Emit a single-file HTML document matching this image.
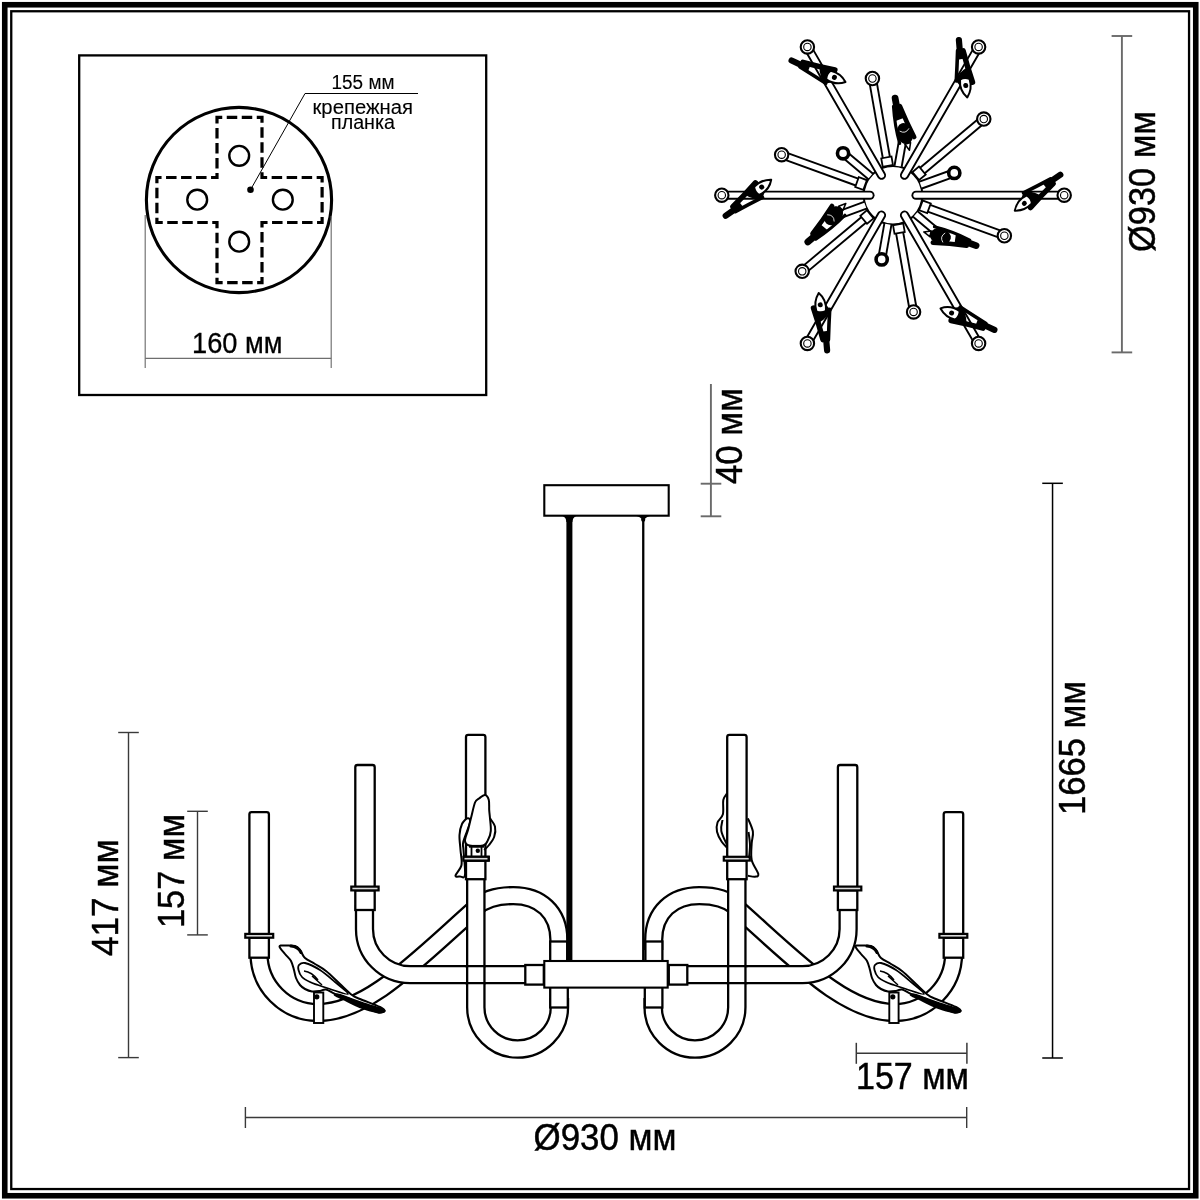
<!DOCTYPE html>
<html><head><meta charset="utf-8"><style>
html,body{margin:0;padding:0;background:#fff;width:1200px;height:1200px;overflow:hidden}
svg{display:block;font-family:"Liberation Sans",sans-serif;will-change:transform}
</style></head><body>
<svg width="1200" height="1200" viewBox="0 0 1200 1200">
<rect width="1200" height="1200" fill="#fff"/>
<rect x="4.75" y="4.75" width="1191" height="1191" fill="none" stroke="#000" stroke-width="5.6"/>
<rect x="11.25" y="11.25" width="1177.8" height="1177.8" fill="none" stroke="#000" stroke-width="2.3"/>
<rect x="79.2" y="55.4" width="407" height="339.6" fill="none" stroke="#000" stroke-width="2.3"/>
<circle cx="239" cy="200" r="92.6" fill="none" stroke="#000" stroke-width="3.1"/>
<path d="M217.00,117.40 L262.00,117.40 L262.00,177.50 L322.10,177.50 L322.10,222.50 L262.00,222.50 L262.00,282.60 L217.00,282.60 L217.00,222.50 L156.90,222.50 L156.90,177.50 L217.00,177.50Z" fill="none" stroke="#000" stroke-width="3.2" stroke-dasharray="10.5 4.5" stroke-dashoffset="5.25" stroke-linejoin="miter"/>
<circle cx="239.2" cy="155.8" r="9.9" fill="none" stroke="#000" stroke-width="2.4"/>
<circle cx="239.2" cy="241.7" r="9.9" fill="none" stroke="#000" stroke-width="2.4"/>
<circle cx="197.2" cy="199.7" r="9.9" fill="none" stroke="#000" stroke-width="2.4"/>
<circle cx="282.8" cy="199.7" r="9.9" fill="none" stroke="#000" stroke-width="2.4"/>
<circle cx="250.5" cy="189.8" r="3.3" fill="#000"/>
<polyline points="250.5,189.8 305,93.5 418,93.5" fill="none" stroke="#000" stroke-width="1"/>
<g stroke="#6e6e6e" stroke-width="1.15" fill="none">
<line x1="145.2" y1="215" x2="145.2" y2="368"/>
<line x1="331.2" y1="216" x2="331.2" y2="368"/>
<line x1="145.2" y1="358.4" x2="331.2" y2="358.4"/>
</g>
<g stroke="#3a3a3a" stroke-width="1.4" fill="none"><line x1="128.5" y1="732.5" x2="128.5" y2="1057.6"/><line x1="118.2" y1="732.5" x2="138.8" y2="732.5"/><line x1="118.2" y1="1057.6" x2="138.8" y2="1057.6"/></g><g stroke="#3a3a3a" stroke-width="1.4" fill="none"><line x1="197.5" y1="811.3" x2="197.5" y2="934.9"/><line x1="187.2" y1="811.3" x2="207.8" y2="811.3"/><line x1="187.2" y1="934.9" x2="207.8" y2="934.9"/></g><g stroke="#6a6a6a" stroke-width="1.9" fill="none"><line x1="710.9" y1="384" x2="710.9" y2="516.3"/><line x1="700.7" y1="483.7" x2="721.3" y2="483.7"/><line x1="700.7" y1="516.3" x2="721.3" y2="516.3"/></g><g stroke="#6a6a6a" stroke-width="1.9" fill="none"><line x1="1121.9" y1="36" x2="1121.9" y2="352.4"/><line x1="1111.6000000000001" y1="36" x2="1132.2" y2="36"/><line x1="1111.6000000000001" y1="352.4" x2="1132.2" y2="352.4"/></g><g stroke="#000" stroke-width="1.5" fill="none"><line x1="1052.55" y1="483.3" x2="1052.55" y2="1058"/><line x1="1042.25" y1="483.3" x2="1062.85" y2="483.3"/><line x1="1042.25" y1="1058" x2="1062.85" y2="1058"/></g><g stroke="#383838" stroke-width="1.5" fill="none"><line x1="856.3" y1="1053.3" x2="966.9" y2="1053.3"/><line x1="856.3" y1="1042.8" x2="856.3" y2="1063.8"/><line x1="966.9" y1="1042.8" x2="966.9" y2="1063.8"/></g><g stroke="#3a3a3a" stroke-width="1.4" fill="none"><line x1="245.4" y1="1117.5" x2="966.7" y2="1117.5"/><line x1="245.4" y1="1107.0" x2="245.4" y2="1128.0"/><line x1="966.7" y1="1107.0" x2="966.7" y2="1128.0"/></g>
<text x="331.5" y="88.5" font-family="Liberation Sans, sans-serif" stroke="#000" stroke-width="0.12" font-size="19.6" textLength="63" lengthAdjust="spacingAndGlyphs">155 мм</text>
<text x="312.5" y="114.4" font-family="Liberation Sans, sans-serif" stroke="#000" stroke-width="0.12" font-size="20" textLength="100.5" lengthAdjust="spacingAndGlyphs">крепежная</text>
<text x="331" y="128.5" font-family="Liberation Sans, sans-serif" stroke="#000" stroke-width="0.12" font-size="20" textLength="64" lengthAdjust="spacingAndGlyphs">планка</text>
<text x="192" y="353.3" font-family="Liberation Sans, sans-serif" stroke="#000" stroke-width="0.3" font-size="29" textLength="90.5" lengthAdjust="spacingAndGlyphs">160 мм</text>
<text x="856" y="1089.4" font-family="Liberation Sans, sans-serif" stroke="#000" stroke-width="0.45" font-size="36.3" textLength="113" lengthAdjust="spacingAndGlyphs">157 мм</text>
<text x="533.5" y="1149.5" font-family="Liberation Sans, sans-serif" stroke="#000" stroke-width="0.45" font-size="36.3" textLength="143" lengthAdjust="spacingAndGlyphs">Ø930 мм</text>
<text transform="translate(118.05,956) rotate(-90)" x="0" y="0" font-family="Liberation Sans, sans-serif" stroke="#000" stroke-width="0.45" font-size="36.3" textLength="116.5" lengthAdjust="spacingAndGlyphs">417 мм</text>
<text transform="translate(183.8,928) rotate(-90)" x="0" y="0" font-family="Liberation Sans, sans-serif" stroke="#000" stroke-width="0.45" font-size="36.3" textLength="114" lengthAdjust="spacingAndGlyphs">157 мм</text>
<text transform="translate(742,484) rotate(-90)" x="0" y="0" font-family="Liberation Sans, sans-serif" stroke="#000" stroke-width="0.45" font-size="36.3" textLength="96" lengthAdjust="spacingAndGlyphs">40 мм</text>
<text transform="translate(1154.7,252) rotate(-90)" x="0" y="0" font-family="Liberation Sans, sans-serif" stroke="#000" stroke-width="0.45" font-size="36.3" textLength="141" lengthAdjust="spacingAndGlyphs">Ø930 мм</text>
<text transform="translate(1085,815) rotate(-90)" x="0" y="0" font-family="Liberation Sans, sans-serif" stroke="#000" stroke-width="0.45" font-size="36.3" textLength="134" lengthAdjust="spacingAndGlyphs">1665 мм</text>
<g><path d="M259,950 L259,953.5 A59,59 0 0 0 318,1012.5 C368,1012.5 416,960.8 478,906" fill="none" stroke="#000" stroke-width="19.3" stroke-linecap="butt"/><path d="M259,950 L259,953.5 A59,59 0 0 0 318,1012.5 C368,1012.5 416,960.8 478,906" fill="none" stroke="#fff" stroke-width="14.7" stroke-linecap="butt"/><path d="M364.5,905 L364.5,929 A45.6,45.6 0 0 0 410.1,974.7 L530,974.7" fill="none" stroke="#000" stroke-width="19.3" stroke-linecap="butt"/><path d="M364.5,905 L364.5,929 A45.6,45.6 0 0 0 410.1,974.7 L530,974.7" fill="none" stroke="#fff" stroke-width="14.7" stroke-linecap="butt"/><path d="M475.8,907 C485,899 500,895.6 513.3,895.6 C540,895.6 558.9,912 558.9,940 L558.9,950" fill="none" stroke="#000" stroke-width="19.3" stroke-linecap="butt"/><path d="M475.8,907 C485,899 500,895.6 513.3,895.6 C540,895.6 558.9,912 558.9,940 L558.9,950" fill="none" stroke="#fff" stroke-width="14.7" stroke-linecap="butt"/><path d="M475.8,875 L475.8,1007.2 A41.8,41.8 0 0 0 559.4,1007.2 L559.4,998" fill="none" stroke="#000" stroke-width="19.6" stroke-linecap="butt"/><path d="M475.8,875 L475.8,1007.2 A41.8,41.8 0 0 0 559.4,1007.2 L559.4,998" fill="none" stroke="#fff" stroke-width="15.0" stroke-linecap="butt"/><path d="M465,966.2 H486 M465,983.2 H486" stroke="#000" stroke-width="2.3"/><rect x="550.2" y="941.5" width="17" height="20" fill="#fff" stroke="#000" stroke-width="2.3"/><rect x="550.2" y="987" width="17.6" height="20.5" fill="#fff" stroke="#000" stroke-width="2.3"/><rect x="525.3" y="965" width="18.5" height="19.6" fill="#fff" stroke="#000" stroke-width="2.3"/><rect x="314" y="992.5" width="9.3" height="30.5" fill="#fff" stroke="#000" stroke-width="1.9"/><rect x="249.4" y="812.1" width="19.5" height="122.8" rx="2.2" fill="#fff" stroke="#000" stroke-width="2.3"/><rect x="249.4" y="937.6999999999999" width="19.5" height="20.0" fill="#fff" stroke="#000" stroke-width="2.3"/><rect x="245.3" y="933.9" width="27.9" height="3.8" fill="#d8d8d8" stroke="#000" stroke-width="2.2"/><rect x="355.3" y="765.0" width="19.4" height="122.6" rx="2.2" fill="#fff" stroke="#000" stroke-width="2.3"/><rect x="355.3" y="890.4" width="19.4" height="19.6" fill="#fff" stroke="#000" stroke-width="2.3"/><rect x="351.3" y="886.6" width="27.3" height="3.8" fill="#d8d8d8" stroke="#000" stroke-width="2.2"/><rect x="466.0" y="734.9" width="19.4" height="122.9" rx="2.2" fill="#fff" stroke="#000" stroke-width="2.3"/><rect x="466.0" y="860.5999999999999" width="19.4" height="18.6" fill="#fff" stroke="#000" stroke-width="2.3"/><rect x="462.8" y="856.8" width="26.0" height="3.8" fill="#d8d8d8" stroke="#000" stroke-width="2.2"/></g>
<g transform="matrix(-1 0 0 1 1212.6 0)"><path d="M259,950 L259,953.5 A59,59 0 0 0 318,1012.5 C368,1012.5 416,960.8 478,906" fill="none" stroke="#000" stroke-width="19.3" stroke-linecap="butt"/><path d="M259,950 L259,953.5 A59,59 0 0 0 318,1012.5 C368,1012.5 416,960.8 478,906" fill="none" stroke="#fff" stroke-width="14.7" stroke-linecap="butt"/><path d="M364.5,905 L364.5,929 A45.6,45.6 0 0 0 410.1,974.7 L530,974.7" fill="none" stroke="#000" stroke-width="19.3" stroke-linecap="butt"/><path d="M364.5,905 L364.5,929 A45.6,45.6 0 0 0 410.1,974.7 L530,974.7" fill="none" stroke="#fff" stroke-width="14.7" stroke-linecap="butt"/><path d="M475.8,907 C485,899 500,895.6 513.3,895.6 C540,895.6 558.9,912 558.9,940 L558.9,950" fill="none" stroke="#000" stroke-width="19.3" stroke-linecap="butt"/><path d="M475.8,907 C485,899 500,895.6 513.3,895.6 C540,895.6 558.9,912 558.9,940 L558.9,950" fill="none" stroke="#fff" stroke-width="14.7" stroke-linecap="butt"/><path d="M475.8,875 L475.8,1007.2 A41.8,41.8 0 0 0 559.4,1007.2 L559.4,998" fill="none" stroke="#000" stroke-width="19.6" stroke-linecap="butt"/><path d="M475.8,875 L475.8,1007.2 A41.8,41.8 0 0 0 559.4,1007.2 L559.4,998" fill="none" stroke="#fff" stroke-width="15.0" stroke-linecap="butt"/><path d="M465,966.2 H486 M465,983.2 H486" stroke="#000" stroke-width="2.3"/><rect x="550.2" y="941.5" width="17" height="20" fill="#fff" stroke="#000" stroke-width="2.3"/><rect x="550.2" y="987" width="17.6" height="20.5" fill="#fff" stroke="#000" stroke-width="2.3"/><rect x="525.3" y="965" width="18.5" height="19.6" fill="#fff" stroke="#000" stroke-width="2.3"/><rect x="314" y="992.5" width="9.3" height="30.5" fill="#fff" stroke="#000" stroke-width="1.9"/><rect x="249.4" y="812.1" width="19.5" height="122.8" rx="2.2" fill="#fff" stroke="#000" stroke-width="2.3"/><rect x="249.4" y="937.6999999999999" width="19.5" height="20.0" fill="#fff" stroke="#000" stroke-width="2.3"/><rect x="245.3" y="933.9" width="27.9" height="3.8" fill="#d8d8d8" stroke="#000" stroke-width="2.2"/><rect x="355.3" y="765.0" width="19.4" height="122.6" rx="2.2" fill="#fff" stroke="#000" stroke-width="2.3"/><rect x="355.3" y="890.4" width="19.4" height="19.6" fill="#fff" stroke="#000" stroke-width="2.3"/><rect x="351.3" y="886.6" width="27.3" height="3.8" fill="#d8d8d8" stroke="#000" stroke-width="2.2"/><rect x="466.0" y="734.9" width="19.4" height="122.9" rx="2.2" fill="#fff" stroke="#000" stroke-width="2.3"/><rect x="466.0" y="860.5999999999999" width="19.4" height="18.6" fill="#fff" stroke="#000" stroke-width="2.3"/><rect x="462.8" y="856.8" width="26.0" height="3.8" fill="#d8d8d8" stroke="#000" stroke-width="2.2"/></g>
<rect x="544.3" y="485.2" width="124.4" height="30.5" fill="#fff" stroke="#000" stroke-width="2.1"/>
<path d="M562.5,516 L576.3,516 Q572.5,517.5 572.4,522 L566.4,522 Q566.3,517.5 562.5,516 Z" fill="#000"/>
<rect x="566.4" y="518" width="6" height="443" fill="#000"/>
<path d="M636.5,516 L650,516 Q645,517.5 644.5,520 L642,520 Q641.5,517.5 636.5,516 Z" fill="#000"/>
<circle cx="643.2" cy="519.8" r="2.1" fill="#000"/>
<rect x="642.1" y="518" width="2.3" height="443" fill="#000"/>
<rect x="544.3" y="961" width="123.4" height="26.6" fill="#fff" stroke="#000" stroke-width="2.1"/>
<g transform="translate(0,0)"><path d="M279.5,946.5 C279.5,947.9 283.1,951.6 285.0,954.0 C286.9,956.4 289.5,958.3 291.0,961.0 C292.5,963.7 293.2,967.2 294.0,970.0 C294.8,972.8 295.0,975.5 296.0,978.0 C297.0,980.5 298.5,983.2 300.0,985.0 C301.5,986.8 303.0,987.9 305.0,989.0 C307.0,990.1 309.5,991.2 312.0,991.5 C314.5,991.8 317.7,991.3 320.0,991.0 C322.3,990.7 323.5,989.0 326.0,989.5 C328.5,990.0 331.0,992.4 335.0,994.0 C339.0,995.6 345.0,996.8 350.0,999.0 C355.0,1001.2 360.3,1004.8 365.0,1007.0 C369.7,1009.2 374.8,1011.8 378.0,1012.5 C381.2,1013.2 384.2,1011.9 384.5,1011.0 C384.8,1010.1 384.1,1009.0 380.0,1007.0 C375.9,1005.0 364.7,1001.0 360.0,999.0 C355.3,997.0 355.3,997.5 352.0,995.0 C348.7,992.5 344.3,988.0 340.0,984.0 C335.7,980.0 330.2,974.3 326.0,971.0 C321.8,967.7 318.5,966.2 315.0,964.0 C311.5,961.8 307.5,960.3 305.0,958.0 C302.5,955.7 301.7,952.0 300.0,950.0 C298.3,948.0 297.5,946.8 295.0,946.0 C292.5,945.2 287.6,945.4 285.0,945.5 C282.4,945.6 279.5,945.1 279.5,946.5Z" fill="#fff" stroke="#000" stroke-width="2" stroke-linejoin="round"/><path d="M299.0,965.0 C300.1,963.8 301.5,962.2 305.0,963.0 C308.5,963.8 315.0,966.8 320.0,970.0 C325.0,973.2 330.3,978.0 335.0,982.0 C339.7,986.0 348.8,992.8 348.0,994.0 C347.2,995.2 335.0,990.5 330.0,989.0 C325.0,987.5 321.3,986.2 318.0,985.0 C314.7,983.8 312.7,983.3 310.0,982.0 C307.3,980.7 303.9,979.0 302.0,977.0 C300.1,975.0 299.0,972.0 298.5,970.0 C298.0,968.0 297.9,966.2 299.0,965.0Z" fill="none" stroke="#000" stroke-width="1.8"/><path d="M338.0,993.5 C340.7,993.8 345.7,996.0 350.0,997.5 C354.3,999.0 359.5,1001.0 364.0,1002.5 C368.5,1004.0 373.7,1005.4 377.0,1006.5 C380.3,1007.6 382.6,1008.2 384.0,1009.0 C385.4,1009.8 386.0,1010.8 385.5,1011.5 C385.0,1012.2 383.6,1013.3 381.0,1013.3 C378.4,1013.3 374.2,1012.6 370.0,1011.5 C365.8,1010.4 360.3,1008.3 356.0,1006.5 C351.7,1004.7 347.7,1002.3 344.0,1000.5 C340.3,998.7 335.0,996.7 334.0,995.5 C333.0,994.3 335.3,993.2 338.0,993.5Z" fill="#000"/><path d="M304,971 Q312,972 318,980 M312,976 L322,985" stroke="#000" stroke-width="1.5" fill="none"/><circle cx="316.8" cy="996.8" r="2.6" fill="#000"/><path d="M291,946 Q298,946.5 301,952.5" fill="none" stroke="#000" stroke-width="3" stroke-linecap="round"/></g>
<g transform="translate(576,0)"><path d="M279.5,946.5 C279.5,947.9 283.1,951.6 285.0,954.0 C286.9,956.4 289.5,958.3 291.0,961.0 C292.5,963.7 293.2,967.2 294.0,970.0 C294.8,972.8 295.0,975.5 296.0,978.0 C297.0,980.5 298.5,983.2 300.0,985.0 C301.5,986.8 303.0,987.9 305.0,989.0 C307.0,990.1 309.5,991.2 312.0,991.5 C314.5,991.8 317.7,991.3 320.0,991.0 C322.3,990.7 323.5,989.0 326.0,989.5 C328.5,990.0 331.0,992.4 335.0,994.0 C339.0,995.6 345.0,996.8 350.0,999.0 C355.0,1001.2 360.3,1004.8 365.0,1007.0 C369.7,1009.2 374.8,1011.8 378.0,1012.5 C381.2,1013.2 384.2,1011.9 384.5,1011.0 C384.8,1010.1 384.1,1009.0 380.0,1007.0 C375.9,1005.0 364.7,1001.0 360.0,999.0 C355.3,997.0 355.3,997.5 352.0,995.0 C348.7,992.5 344.3,988.0 340.0,984.0 C335.7,980.0 330.2,974.3 326.0,971.0 C321.8,967.7 318.5,966.2 315.0,964.0 C311.5,961.8 307.5,960.3 305.0,958.0 C302.5,955.7 301.7,952.0 300.0,950.0 C298.3,948.0 297.5,946.8 295.0,946.0 C292.5,945.2 287.6,945.4 285.0,945.5 C282.4,945.6 279.5,945.1 279.5,946.5Z" fill="#fff" stroke="#000" stroke-width="2" stroke-linejoin="round"/><path d="M299.0,965.0 C300.1,963.8 301.5,962.2 305.0,963.0 C308.5,963.8 315.0,966.8 320.0,970.0 C325.0,973.2 330.3,978.0 335.0,982.0 C339.7,986.0 348.8,992.8 348.0,994.0 C347.2,995.2 335.0,990.5 330.0,989.0 C325.0,987.5 321.3,986.2 318.0,985.0 C314.7,983.8 312.7,983.3 310.0,982.0 C307.3,980.7 303.9,979.0 302.0,977.0 C300.1,975.0 299.0,972.0 298.5,970.0 C298.0,968.0 297.9,966.2 299.0,965.0Z" fill="none" stroke="#000" stroke-width="1.8"/><path d="M338.0,993.5 C340.7,993.8 345.7,996.0 350.0,997.5 C354.3,999.0 359.5,1001.0 364.0,1002.5 C368.5,1004.0 373.7,1005.4 377.0,1006.5 C380.3,1007.6 382.6,1008.2 384.0,1009.0 C385.4,1009.8 386.0,1010.8 385.5,1011.5 C385.0,1012.2 383.6,1013.3 381.0,1013.3 C378.4,1013.3 374.2,1012.6 370.0,1011.5 C365.8,1010.4 360.3,1008.3 356.0,1006.5 C351.7,1004.7 347.7,1002.3 344.0,1000.5 C340.3,998.7 335.0,996.7 334.0,995.5 C333.0,994.3 335.3,993.2 338.0,993.5Z" fill="#000"/><path d="M304,971 Q312,972 318,980 M312,976 L322,985" stroke="#000" stroke-width="1.5" fill="none"/><circle cx="316.8" cy="996.8" r="2.6" fill="#000"/><path d="M291,946 Q298,946.5 301,952.5" fill="none" stroke="#000" stroke-width="3" stroke-linecap="round"/></g>
<path d="M467.5,818.3 C466.2,818.5 463.3,821.2 462.0,824.0 C460.7,826.8 459.8,830.7 459.5,835.0 C459.2,839.3 460.2,845.0 460.5,850.0 C460.8,855.0 462.3,860.8 461.5,865.0 C460.7,869.2 455.8,873.6 455.5,875.5 C455.2,877.4 458.4,876.6 460.0,876.5 C461.6,876.4 464.4,879.4 465.0,875.0 C465.6,870.6 463.8,855.5 463.5,850.0 C463.2,844.5 462.2,846.3 463.3,841.7 C464.4,837.1 469.3,826.4 470.0,822.5 C470.7,818.6 468.8,818.0 467.5,818.3Z" fill="#fff" stroke="#000" stroke-width="2" stroke-linejoin="round"/>
<path d="M490.0,818.3 C490.8,819.7 494.3,823.6 495.0,826.7 C495.7,829.8 495.2,833.7 494.2,836.7 C493.2,839.8 490.7,842.8 489.0,845.0 C487.3,847.2 485.0,849.2 484.2,850.0" fill="none" stroke="#000" stroke-width="2"/>
<path d="M471.5,846 V856 M481.5,846 V856" stroke="#000" stroke-width="1.8"/>
<path d="M485.0,795.0 C486.6,795.2 488.1,797.5 488.8,800.0 C489.5,802.5 489.0,807.0 489.2,810.0 C489.4,813.0 489.7,814.8 490.0,818.3 C490.3,821.8 491.1,827.3 490.8,830.8 C490.5,834.3 489.6,836.8 488.3,839.2 C487.1,841.7 486.5,844.5 483.3,845.5 C480.1,846.5 472.2,846.3 469.2,845.5 C466.1,844.7 465.2,843.4 465.0,840.8 C464.8,838.2 467.0,833.8 468.0,830.0 C469.0,826.2 469.8,822.6 471.0,818.0 C472.2,813.4 473.7,805.8 475.0,802.5 C476.3,799.2 477.3,799.8 479.0,798.5 C480.7,797.2 483.4,794.8 485.0,795.0Z" fill="#fff" stroke="#000" stroke-width="2" stroke-linejoin="round"/>
<path d="M469,846.3 H484" stroke="#000" stroke-width="2.8"/><circle cx="477.8" cy="850.8" r="2.2" fill="#000"/>
<rect x="463.4" y="856.8" width="25.2" height="3.8" fill="#d8d8d8" stroke="#000" stroke-width="2.2"/>
<path d="M727.0,793.5 C726.4,794.6 724.0,796.5 723.3,800.0 C722.6,803.5 723.9,810.5 722.9,814.2 C721.9,818.0 718.5,819.6 717.5,822.5 C716.5,825.4 716.3,828.5 717.0,831.7 C717.7,834.9 720.0,839.1 721.7,841.7 C723.4,844.3 726.1,846.5 727.0,847.5" fill="none" stroke="#000" stroke-width="2"/>
<path d="M722.5,820.0 C722.3,821.8 720.5,826.6 721.3,830.8 C722.0,835.0 726.0,842.6 727.0,845.0" fill="none" stroke="#000" stroke-width="2"/>
<path d="M747.9,818.3 C748.7,820.5 752.3,827.5 752.9,831.7 C753.5,835.9 751.9,838.6 751.7,843.3 C751.5,848.0 750.6,854.9 751.7,860.0 C752.8,865.1 757.8,871.2 758.3,874.0 C758.8,876.8 756.7,876.4 755.0,876.7 C753.3,877.0 749.1,875.9 747.9,875.8" fill="none" stroke="#000" stroke-width="2"/>
<path d="M748.5,832.0 C748.8,834.2 749.9,840.7 750.0,845.0 C750.1,849.3 749.2,855.8 749.0,858.0" fill="none" stroke="#000" stroke-width="2"/>
<circle cx="893.0" cy="195.2" r="29.3" fill="#fff" stroke="#000" stroke-width="2"/>
<path d="M916.00,195.20 L1064.20,195.20" stroke="#000" stroke-width="9.1" stroke-linecap="round"/><path d="M916.00,195.20 L1064.20,195.20" stroke="#fff" stroke-width="5.300000000000001" stroke-linecap="round"/><path d="M904.50,175.28 L978.60,46.94" stroke="#000" stroke-width="9.1" stroke-linecap="round"/><path d="M904.50,175.28 L978.60,46.94" stroke="#fff" stroke-width="5.300000000000001" stroke-linecap="round"/><path d="M915.60,176.24 L983.78,119.03" stroke="#000" stroke-width="9.1" stroke-linecap="butt"/><path d="M915.60,176.24 L983.78,119.03" stroke="#fff" stroke-width="5.300000000000001" stroke-linecap="butt"/><path d="M887.88,166.15 L872.42,78.50" stroke="#000" stroke-width="9.1" stroke-linecap="butt"/><path d="M887.88,166.15 L872.42,78.50" stroke="#fff" stroke-width="5.300000000000001" stroke-linecap="butt"/><path d="M920.72,185.11 L954.27,172.90" stroke="#000" stroke-width="9.1" stroke-linecap="butt"/><path d="M920.72,185.11 L954.27,172.90" stroke="#fff" stroke-width="5.300000000000001" stroke-linecap="butt"/><path d="M898.12,166.15 L903.77,134.14" stroke="#000" stroke-width="9.1" stroke-linecap="butt"/><path d="M898.12,166.15 L903.77,134.14" stroke="#fff" stroke-width="5.300000000000001" stroke-linecap="butt"/><path d="M881.50,175.28 L807.40,46.94" stroke="#000" stroke-width="9.1" stroke-linecap="round"/><path d="M881.50,175.28 L807.40,46.94" stroke="#fff" stroke-width="5.300000000000001" stroke-linecap="round"/><path d="M870.00,195.20 L721.80,195.20" stroke="#000" stroke-width="9.1" stroke-linecap="round"/><path d="M870.00,195.20 L721.80,195.20" stroke="#fff" stroke-width="5.300000000000001" stroke-linecap="round"/><path d="M865.28,185.11 L781.65,154.67" stroke="#000" stroke-width="9.1" stroke-linecap="butt"/><path d="M865.28,185.11 L781.65,154.67" stroke="#fff" stroke-width="5.300000000000001" stroke-linecap="butt"/><path d="M870.40,214.16 L802.22,271.37" stroke="#000" stroke-width="9.1" stroke-linecap="butt"/><path d="M870.40,214.16 L802.22,271.37" stroke="#fff" stroke-width="5.300000000000001" stroke-linecap="butt"/><path d="M870.40,176.24 L843.05,153.29" stroke="#000" stroke-width="9.1" stroke-linecap="butt"/><path d="M870.40,176.24 L843.05,153.29" stroke="#fff" stroke-width="5.300000000000001" stroke-linecap="butt"/><path d="M865.28,205.29 L834.74,216.41" stroke="#000" stroke-width="9.1" stroke-linecap="butt"/><path d="M865.28,205.29 L834.74,216.41" stroke="#fff" stroke-width="5.300000000000001" stroke-linecap="butt"/><path d="M881.50,215.12 L807.40,343.46" stroke="#000" stroke-width="9.1" stroke-linecap="round"/><path d="M881.50,215.12 L807.40,343.46" stroke="#fff" stroke-width="5.300000000000001" stroke-linecap="round"/><path d="M904.50,215.12 L978.60,343.46" stroke="#000" stroke-width="9.1" stroke-linecap="round"/><path d="M904.50,215.12 L978.60,343.46" stroke="#fff" stroke-width="5.300000000000001" stroke-linecap="round"/><path d="M898.12,224.25 L913.58,311.90" stroke="#000" stroke-width="9.1" stroke-linecap="butt"/><path d="M898.12,224.25 L913.58,311.90" stroke="#fff" stroke-width="5.300000000000001" stroke-linecap="butt"/><path d="M920.72,205.29 L1004.35,235.73" stroke="#000" stroke-width="9.1" stroke-linecap="butt"/><path d="M920.72,205.29 L1004.35,235.73" stroke="#fff" stroke-width="5.300000000000001" stroke-linecap="butt"/><path d="M887.88,224.25 L881.68,259.41" stroke="#000" stroke-width="9.1" stroke-linecap="butt"/><path d="M887.88,224.25 L881.68,259.41" stroke="#fff" stroke-width="5.300000000000001" stroke-linecap="butt"/><path d="M915.60,214.16 L940.49,235.05" stroke="#000" stroke-width="9.1" stroke-linecap="butt"/><path d="M915.60,214.16 L940.49,235.05" stroke="#fff" stroke-width="5.300000000000001" stroke-linecap="butt"/>
<circle cx="1064.20" cy="195.20" r="6.7" fill="#fff" stroke="#000" stroke-width="2.1"/><circle cx="1064.20" cy="195.20" r="3.7" fill="#fff" stroke="#000" stroke-width="1.1"/><circle cx="978.60" cy="46.94" r="6.7" fill="#fff" stroke="#000" stroke-width="2.1"/><circle cx="978.60" cy="46.94" r="3.7" fill="#fff" stroke="#000" stroke-width="1.1"/><rect x="-4.3" y="-5.2" width="8.6" height="10.4" fill="#fff" stroke="#000" stroke-width="1.8" transform="translate(919.05,173.35) rotate(-40)"/><circle cx="983.78" cy="119.03" r="6.7" fill="#fff" stroke="#000" stroke-width="2.1"/><circle cx="983.78" cy="119.03" r="3.7" fill="#fff" stroke="#000" stroke-width="1.1"/><rect x="-4.3" y="-5.2" width="8.6" height="10.4" fill="#fff" stroke="#000" stroke-width="1.8" transform="translate(887.10,161.72) rotate(-100)"/><circle cx="872.42" cy="78.50" r="6.7" fill="#fff" stroke="#000" stroke-width="2.1"/><circle cx="872.42" cy="78.50" r="3.7" fill="#fff" stroke="#000" stroke-width="1.1"/><circle cx="954.27" cy="172.90" r="5.6" fill="#fff" stroke="#000" stroke-width="3.6"/><circle cx="807.40" cy="46.94" r="6.7" fill="#fff" stroke="#000" stroke-width="2.1"/><circle cx="807.40" cy="46.94" r="3.7" fill="#fff" stroke="#000" stroke-width="1.1"/><circle cx="721.80" cy="195.20" r="6.7" fill="#fff" stroke="#000" stroke-width="2.1"/><circle cx="721.80" cy="195.20" r="3.7" fill="#fff" stroke="#000" stroke-width="1.1"/><rect x="-4.3" y="-5.2" width="8.6" height="10.4" fill="#fff" stroke="#000" stroke-width="1.8" transform="translate(861.05,183.57) rotate(-160)"/><circle cx="781.65" cy="154.67" r="6.7" fill="#fff" stroke="#000" stroke-width="2.1"/><circle cx="781.65" cy="154.67" r="3.7" fill="#fff" stroke="#000" stroke-width="1.1"/><rect x="-4.3" y="-5.2" width="8.6" height="10.4" fill="#fff" stroke="#000" stroke-width="1.8" transform="translate(866.95,217.05) rotate(-220)"/><circle cx="802.22" cy="271.37" r="6.7" fill="#fff" stroke="#000" stroke-width="2.1"/><circle cx="802.22" cy="271.37" r="3.7" fill="#fff" stroke="#000" stroke-width="1.1"/><circle cx="843.05" cy="153.29" r="5.6" fill="#fff" stroke="#000" stroke-width="3.6"/><circle cx="807.40" cy="343.46" r="6.7" fill="#fff" stroke="#000" stroke-width="2.1"/><circle cx="807.40" cy="343.46" r="3.7" fill="#fff" stroke="#000" stroke-width="1.1"/><circle cx="978.60" cy="343.46" r="6.7" fill="#fff" stroke="#000" stroke-width="2.1"/><circle cx="978.60" cy="343.46" r="3.7" fill="#fff" stroke="#000" stroke-width="1.1"/><rect x="-4.3" y="-5.2" width="8.6" height="10.4" fill="#fff" stroke="#000" stroke-width="1.8" transform="translate(898.90,228.68) rotate(-280)"/><circle cx="913.58" cy="311.90" r="6.7" fill="#fff" stroke="#000" stroke-width="2.1"/><circle cx="913.58" cy="311.90" r="3.7" fill="#fff" stroke="#000" stroke-width="1.1"/><rect x="-4.3" y="-5.2" width="8.6" height="10.4" fill="#fff" stroke="#000" stroke-width="1.8" transform="translate(924.95,206.83) rotate(-340)"/><circle cx="1004.35" cy="235.73" r="6.7" fill="#fff" stroke="#000" stroke-width="2.1"/><circle cx="1004.35" cy="235.73" r="3.7" fill="#fff" stroke="#000" stroke-width="1.1"/><circle cx="881.68" cy="259.41" r="5.6" fill="#fff" stroke="#000" stroke-width="3.6"/>
<g transform="translate(1061.72,173.59) rotate(141.70)"><path d="M1.8,0 L15,0.8" stroke="#000" stroke-width="6.2" stroke-linecap="round"/><path d="M12,3 L21,4.3 L21,-3.4 L12,-2.8 Z" fill="#000"/><path d="M12,2.8 Q27,5.5 42,8.5" fill="none" stroke="#000" stroke-width="3.6" stroke-linecap="round"/><path d="M13,-2.6 Q30,-4.5 45.5,-7.4" fill="none" stroke="#000" stroke-width="5.4" stroke-linecap="round"/><path d="M30,-4.5 Q34,6 42,8.8 L48,5 L48,-7.5 Z" fill="#000"/><path d="M41,4.6 Q52,7 59.8,0 Q52,-6.5 42,-5 Q39,-0.5 41,4.6Z" fill="#fff" stroke="#000" stroke-width="2" stroke-linejoin="round"/><circle cx="47.8" cy="-0.2" r="2.5" fill="#000"/></g><g transform="translate(958.64,38.28) rotate(81.70)"><path d="M1.8,0 L15,0.8" stroke="#000" stroke-width="6.2" stroke-linecap="round"/><path d="M12,3 L21,4.3 L21,-3.4 L12,-2.8 Z" fill="#000"/><path d="M12,2.8 Q27,5.5 42,8.5" fill="none" stroke="#000" stroke-width="3.6" stroke-linecap="round"/><path d="M13,-2.6 Q30,-4.5 45.5,-7.4" fill="none" stroke="#000" stroke-width="5.4" stroke-linecap="round"/><path d="M30,-4.5 Q34,6 42,8.8 L48,5 L48,-7.5 Z" fill="#000"/><path d="M41,4.6 Q52,7 59.8,0 Q52,-6.5 42,-5 Q39,-0.5 41,4.6Z" fill="#fff" stroke="#000" stroke-width="2" stroke-linejoin="round"/><circle cx="47.8" cy="-0.2" r="2.5" fill="#000"/></g><g transform="translate(894.56,96.21) rotate(73.80) scale(0.97)"><path d="M2,0 L12,1" stroke="#000" stroke-width="7" stroke-linecap="round"/><path d="M9.7,4 Q30,8.5 48.3,8.5" fill="none" stroke="#000" stroke-width="3.2" stroke-linecap="round"/><path d="M11.4,-2.4 Q29,-4.3 46,-7.7" fill="none" stroke="#000" stroke-width="4.8" stroke-linecap="round"/><path d="M9,-2.2 L24,-4.1 L25,6.8 L9,4 Z" fill="#000"/><ellipse cx="40" cy="0.5" rx="11" ry="8.2" fill="#000"/><path d="M36,-5 Q41,0 36,5" fill="none" stroke="#fff" stroke-width="0.8"/><path d="M50.5,3.5 L57.7,0.8 L50.5,-2.5 Z" fill="#fff" stroke="#000" stroke-width="1.6" stroke-linejoin="round"/></g><g transform="translate(789.92,59.89) rotate(21.70)"><path d="M1.8,0 L15,0.8" stroke="#000" stroke-width="6.2" stroke-linecap="round"/><path d="M12,3 L21,4.3 L21,-3.4 L12,-2.8 Z" fill="#000"/><path d="M12,2.8 Q27,5.5 42,8.5" fill="none" stroke="#000" stroke-width="3.6" stroke-linecap="round"/><path d="M13,-2.6 Q30,-4.5 45.5,-7.4" fill="none" stroke="#000" stroke-width="5.4" stroke-linecap="round"/><path d="M30,-4.5 Q34,6 42,8.8 L48,5 L48,-7.5 Z" fill="#000"/><path d="M41,4.6 Q52,7 59.8,0 Q52,-6.5 42,-5 Q39,-0.5 41,4.6Z" fill="#fff" stroke="#000" stroke-width="2" stroke-linejoin="round"/><circle cx="47.8" cy="-0.2" r="2.5" fill="#000"/></g><g transform="translate(724.28,216.81) rotate(-38.30)"><path d="M1.8,0 L15,0.8" stroke="#000" stroke-width="6.2" stroke-linecap="round"/><path d="M12,3 L21,4.3 L21,-3.4 L12,-2.8 Z" fill="#000"/><path d="M12,2.8 Q27,5.5 42,8.5" fill="none" stroke="#000" stroke-width="3.6" stroke-linecap="round"/><path d="M13,-2.6 Q30,-4.5 45.5,-7.4" fill="none" stroke="#000" stroke-width="5.4" stroke-linecap="round"/><path d="M30,-4.5 Q34,6 42,8.8 L48,5 L48,-7.5 Z" fill="#000"/><path d="M41,4.6 Q52,7 59.8,0 Q52,-6.5 42,-5 Q39,-0.5 41,4.6Z" fill="#fff" stroke="#000" stroke-width="2" stroke-linejoin="round"/><circle cx="47.8" cy="-0.2" r="2.5" fill="#000"/></g><g transform="translate(806.50,243.35) rotate(-46.20) scale(0.97)"><path d="M2,0 L12,1" stroke="#000" stroke-width="7" stroke-linecap="round"/><path d="M9.7,4 Q30,8.5 48.3,8.5" fill="none" stroke="#000" stroke-width="3.2" stroke-linecap="round"/><path d="M11.4,-2.4 Q29,-4.3 46,-7.7" fill="none" stroke="#000" stroke-width="4.8" stroke-linecap="round"/><path d="M9,-2.2 L24,-4.1 L25,6.8 L9,4 Z" fill="#000"/><ellipse cx="40" cy="0.5" rx="11" ry="8.2" fill="#000"/><path d="M36,-5 Q41,0 36,5" fill="none" stroke="#fff" stroke-width="0.8"/><path d="M50.5,3.5 L57.7,0.8 L50.5,-2.5 Z" fill="#fff" stroke="#000" stroke-width="1.6" stroke-linejoin="round"/></g><g transform="translate(827.36,352.12) rotate(-98.30)"><path d="M1.8,0 L15,0.8" stroke="#000" stroke-width="6.2" stroke-linecap="round"/><path d="M12,3 L21,4.3 L21,-3.4 L12,-2.8 Z" fill="#000"/><path d="M12,2.8 Q27,5.5 42,8.5" fill="none" stroke="#000" stroke-width="3.6" stroke-linecap="round"/><path d="M13,-2.6 Q30,-4.5 45.5,-7.4" fill="none" stroke="#000" stroke-width="5.4" stroke-linecap="round"/><path d="M30,-4.5 Q34,6 42,8.8 L48,5 L48,-7.5 Z" fill="#000"/><path d="M41,4.6 Q52,7 59.8,0 Q52,-6.5 42,-5 Q39,-0.5 41,4.6Z" fill="#fff" stroke="#000" stroke-width="2" stroke-linejoin="round"/><circle cx="47.8" cy="-0.2" r="2.5" fill="#000"/></g><g transform="translate(996.08,330.51) rotate(-158.30)"><path d="M1.8,0 L15,0.8" stroke="#000" stroke-width="6.2" stroke-linecap="round"/><path d="M12,3 L21,4.3 L21,-3.4 L12,-2.8 Z" fill="#000"/><path d="M12,2.8 Q27,5.5 42,8.5" fill="none" stroke="#000" stroke-width="3.6" stroke-linecap="round"/><path d="M13,-2.6 Q30,-4.5 45.5,-7.4" fill="none" stroke="#000" stroke-width="5.4" stroke-linecap="round"/><path d="M30,-4.5 Q34,6 42,8.8 L48,5 L48,-7.5 Z" fill="#000"/><path d="M41,4.6 Q52,7 59.8,0 Q52,-6.5 42,-5 Q39,-0.5 41,4.6Z" fill="#fff" stroke="#000" stroke-width="2" stroke-linejoin="round"/><circle cx="47.8" cy="-0.2" r="2.5" fill="#000"/></g><g transform="translate(977.95,246.04) rotate(-166.20) scale(0.97)"><path d="M2,0 L12,1" stroke="#000" stroke-width="7" stroke-linecap="round"/><path d="M9.7,4 Q30,8.5 48.3,8.5" fill="none" stroke="#000" stroke-width="3.2" stroke-linecap="round"/><path d="M11.4,-2.4 Q29,-4.3 46,-7.7" fill="none" stroke="#000" stroke-width="4.8" stroke-linecap="round"/><path d="M9,-2.2 L24,-4.1 L25,6.8 L9,4 Z" fill="#000"/><ellipse cx="40" cy="0.5" rx="11" ry="8.2" fill="#000"/><path d="M36,-5 Q41,0 36,5" fill="none" stroke="#fff" stroke-width="0.8"/><path d="M50.5,3.5 L57.7,0.8 L50.5,-2.5 Z" fill="#fff" stroke="#000" stroke-width="1.6" stroke-linejoin="round"/></g>
</svg>
</body></html>
